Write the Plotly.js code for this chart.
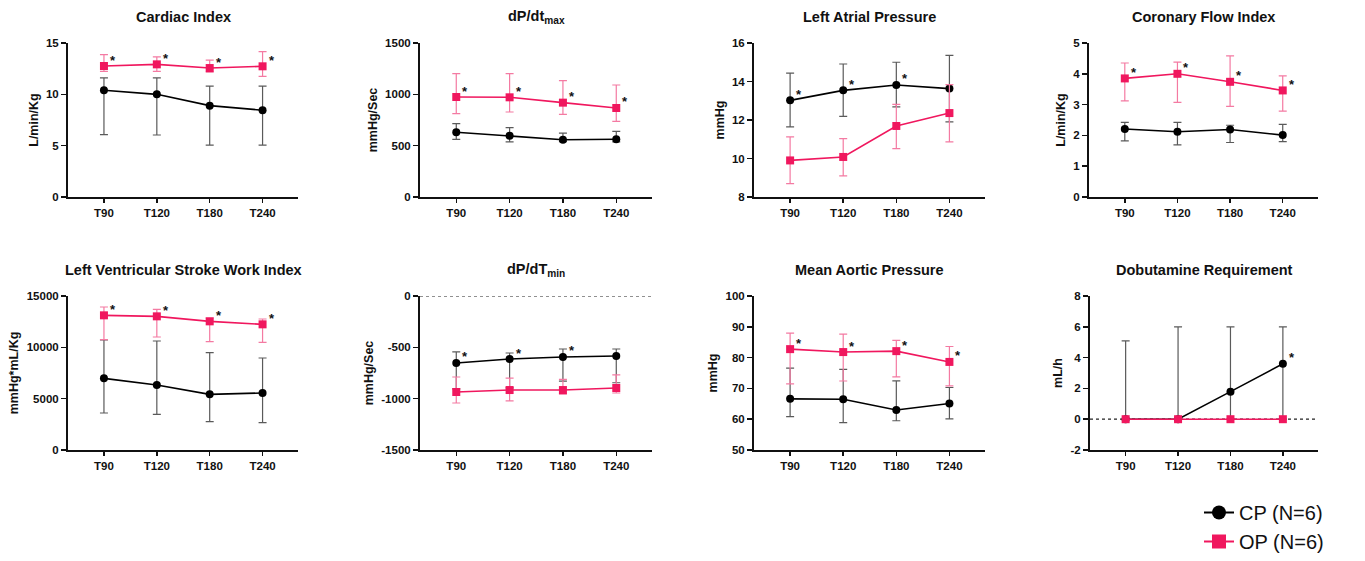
<!DOCTYPE html>
<html>
<head>
<meta charset="utf-8">
<script src="https://cdn.plot.ly/plotly-3.0.1.min.js"></script>
<style>html,body{margin:0;padding:0;background:#fff;overflow:hidden;}#chart{width:1365px;height:561px;}</style>
</head>
<body>
<div id="chart"></div>
<script>
// ---------------- DATA ----------------
const categories = ['T90', 'T120', 'T180', 'T240'];

// Cardiac Index (L/min/Kg)
const ci_cp = [10.4, 10.0, 8.9, 8.45];
const ci_cp_hi = [11.6, 11.6, 10.8, 10.8];
const ci_cp_lo = [6.07, 6.04, 5.06, 5.06];
const ci_op = [12.76, 12.92, 12.56, 12.73];
const ci_op_hi = [13.86, 13.64, 13.34, 14.16];
const ci_op_lo = [12.24, 12.24, 12.17, 11.75];

// dP/dt max (mmHg/Sec)
const dpmax_cp = [630, 597, 558, 562];
const dpmax_cp_hi = [714, 675, 623, 640];
const dpmax_cp_lo = [562, 536, 540, 536];
const dpmax_op = [974, 971, 919, 867];
const dpmax_op_hi = [1201, 1201, 1133, 1091];
const dpmax_op_lo = [812, 828, 805, 737];

// Left Atrial Pressure (mmHg)
const lap_cp = [13.02, 13.54, 13.82, 13.63];
const lap_cp_hi = [14.44, 14.91, 15.0, 15.36];
const lap_cp_lo = [11.64, 12.19, 12.68, 11.9];
const lap_op = [9.9, 10.08, 11.69, 12.36];
const lap_op_hi = [11.12, 11.03, 12.81, 13.84];
const lap_op_lo = [8.69, 9.1, 10.51, 10.86];

// Coronary Flow Index (L/min/Kg)
const cfi_cp = [2.21, 2.12, 2.19, 2.01];
const cfi_cp_hi = [2.42, 2.42, 2.33, 2.36];
const cfi_cp_lo = [1.82, 1.69, 1.77, 1.80];
const cfi_op = [3.85, 4.0, 3.74, 3.46];
const cfi_op_hi = [4.35, 4.38, 4.58, 3.93];
const cfi_op_lo = [3.12, 3.07, 2.94, 2.79];

// Left Ventricular Stroke Work Index (mmHg*mL/Kg)
const lvswi_cp = [6980, 6331, 5422, 5552];
const lvswi_cp_hi = [10714, 10617, 9481, 8961];
const lvswi_cp_lo = [3604, 3474, 2760, 2662];
const lvswi_op = [13117, 13019, 12532, 12240];
const lvswi_op_hi = [13929, 13701, 12857, 12760];
const lvswi_op_lo = [10747, 11006, 10552, 10487];

// dP/dT min (mmHg/Sec)
const dpmin_cp = [-652, -614, -594, -584];
const dpmin_cp_hi = [-545, -555, -516, -516];
const dpmin_cp_lo = [-905, -894, -829, -845];
const dpmin_op = [-935, -916, -916, -896];
const dpmin_op_hi = [-789, -799, -812, -769];
const dpmin_op_lo = [-1042, -1022, -955, -945];

// Mean Aortic Pressure (mmHg)
const map_cp = [66.6, 66.5, 63.0, 65.1];
const map_cp_hi = [76.6, 76.2, 72.45, 70.3];
const map_cp_lo = [60.85, 58.9, 59.5, 60.1];
const map_op = [82.75, 81.8, 82.1, 78.6];
const map_op_hi = [87.96, 87.6, 85.6, 83.6];
const map_op_lo = [71.5, 72.4, 73.75, 70.8];

// Dobutamine Requirement (mL/h)
const dob_cp = [0, 0, 1.79, 3.6];
const dob_cp_hi = [5.08, 6.0, 6.0, 6.0];
const dob_cp_lo = [0, 0, 0, 0];
const dob_op = [0, 0, 0, 0];
const dob_op_hi = [0, 0, 0, 0];
const dob_op_lo = [0, 0, 0, 0];

// significance markers (1 = asterisk)
const ci_star_op = [1, 1, 1, 1];
const dpmax_star_op = [1, 1, 1, 1];
const lap_star_cp = [1, 1, 1, 0];
const cfi_star_op = [1, 1, 1, 1];
const lvswi_star_op = [1, 1, 1, 1];
const dpmin_star_cp = [1, 1, 1, 0];
const map_star_op = [1, 1, 1, 1];
const dob_star_cp = [0, 0, 0, 1];

// Tick labels
const ci_ticks = [0, 5, 10, 15];
const dpmax_ticks = [0, 500, 1000, 1500];
const lap_ticks = [8, 10, 12, 14, 16];
const cfi_ticks = [0, 1, 2, 3, 4, 5];
const lvswi_ticks = [0, 5000, 10000, 15000];
const dpmin_ticks = [-1500, -1000, -500, 0];
const map_ticks = [50, 60, 70, 80, 90, 100];
const dob_ticks = [-2, 0, 2, 4, 6, 8];

const seriesNames = ['CP (N=6)', 'OP (N=6)'];

// ---------------- STYLE ----------------
const FONT = 'Liberation Sans, Arial, Helvetica, sans-serif';
const CP_COLOR = '#000000';
const CP_ERR = '#5a5a5a';
const OP_COLOR = '#f0175e';
const OP_ERR = '#f47aa2';

const panels = [
  {title: 'Cardiac Index', ytitle: 'L/min/Kg', cp: [ci_cp, ci_cp_hi, ci_cp_lo], op: [ci_op, ci_op_hi, ci_op_lo], starsCP: null, starsOP: ci_star_op, range: [0, 15], ticks: ci_ticks, dom: [68, 298], row: 0},
  {title: 'dP/dt<sub>max</sub>', ytitle: 'mmHg/Sec', cp: [dpmax_cp, dpmax_cp_hi, dpmax_cp_lo], op: [dpmax_op, dpmax_op_hi, dpmax_op_lo], starsCP: null, starsOP: dpmax_star_op, range: [0, 1500], ticks: dpmax_ticks, dom: [420, 652], row: 0},
  {title: 'Left Atrial Pressure', ytitle: 'mmHg', cp: [lap_cp, lap_cp_hi, lap_cp_lo], op: [lap_op, lap_op_hi, lap_op_lo], starsCP: lap_star_cp, starsOP: null, range: [8, 16], ticks: lap_ticks, dom: [754, 985], row: 0},
  {title: 'Coronary Flow Index', ytitle: 'L/min/Kg', cp: [cfi_cp, cfi_cp_hi, cfi_cp_lo], op: [cfi_op, cfi_op_hi, cfi_op_lo], starsCP: null, starsOP: cfi_star_op, range: [0, 5], ticks: cfi_ticks, dom: [1089, 1318], row: 0},
  {title: 'Left Ventricular Stroke Work Index', ytitle: 'mmHg*mL/Kg', cp: [lvswi_cp, lvswi_cp_hi, lvswi_cp_lo], op: [lvswi_op, lvswi_op_hi, lvswi_op_lo], starsCP: null, starsOP: lvswi_star_op, range: [0, 15000], ticks: lvswi_ticks, dom: [68, 298], row: 1},
  {title: 'dP/dT<sub>min</sub>', ytitle: 'mmHg/Sec', cp: [dpmin_cp, dpmin_cp_hi, dpmin_cp_lo], op: [dpmin_op, dpmin_op_hi, dpmin_op_lo], starsCP: dpmin_star_cp, starsOP: null, range: [-1500, 0], ticks: dpmin_ticks, dom: [420, 652], row: 1, dotZero: true},
  {title: 'Mean Aortic Pressure', ytitle: 'mmHg', cp: [map_cp, map_cp_hi, map_cp_lo], op: [map_op, map_op_hi, map_op_lo], starsCP: null, starsOP: map_star_op, range: [50, 100], ticks: map_ticks, dom: [754, 985], row: 1},
  {title: 'Dobutamine Requirement', ytitle: 'mL/h', cp: [dob_cp, dob_cp_hi, dob_cp_lo], op: [dob_op, dob_op_hi, dob_op_lo], starsCP: dob_star_cp, starsOP: null, range: [-2, 8], ticks: dob_ticks, dom: [1090, 1318], row: 1, dotZero: true, noOpErr: true}
];

const W = 1365, H = 561;
const rowPx = [[43, 197], [296, 450]];
const titleY = [17, 270];

const traces = [];
const annotations = [];
const shapes = [];
const layout = {
  width: W, height: H,
  margin: {l: 0, r: 0, t: 0, b: 0, pad: 0},
  paper_bgcolor: '#ffffff', plot_bgcolor: 'rgba(0,0,0,0)',
  font: {family: FONT, color: '#111'},
  showlegend: true,
  legend: {x: 1199 / W, y: 0, xanchor: 'left', yanchor: 'bottom', tracegroupgap: 9,
    traceorder: 'normal', font: {family: FONT, size: 20, color: '#111'}, bgcolor: 'rgba(0,0,0,0)'}
};

function errOf(mean, hi, lo) {
  return {
    type: 'data', symmetric: false,
    array: mean.map((m, i) => hi[i] - m),
    arrayminus: mean.map((m, i) => m - lo[i])
  };
}

panels.forEach((p, k) => {
  const n = k + 1;
  const xa = 'x' + (n === 1 ? '' : n), ya = 'y' + (n === 1 ? '' : n);
  const xkey = 'xaxis' + (n === 1 ? '' : n), ykey = 'yaxis' + (n === 1 ? '' : n);
  const yr = rowPx[p.row];

  layout[xkey] = {
    type: 'category', domain: [p.dom[0] / W, p.dom[1] / W], anchor: ya,
    range: [-0.68, 3.67], showline: true, linewidth: 2, linecolor: '#111',
    ticks: 'outside', ticklen: 4, tickwidth: 1.5, tickcolor: '#111',
    showgrid: false, zeroline: false, fixedrange: true, automargin: false,
    tickfont: {family: FONT, size: 11.5, color: '#111', weight: 'bold'}
  };
  layout[ykey] = {
    domain: [1 - yr[1] / H, 1 - yr[0] / H], anchor: xa,
    range: p.range, tickvals: p.ticks, ticktext: p.ticks.map(v => String(v)),
    showline: true, linewidth: 2, linecolor: '#111',
    ticks: 'outside', ticklen: 5, tickwidth: 1.5, tickcolor: '#111',
    showgrid: false, zeroline: false, fixedrange: true, automargin: false,
    tickfont: {family: FONT, size: 11.5, color: '#111', weight: 'bold'},
    title: {text: p.ytitle, font: {family: FONT, size: 12.5, color: '#111', weight: 'bold'}, standoff: 5}
  };

  const cpErr = errOf(p.cp[0], p.cp[1], p.cp[2]);
  const opErr = errOf(p.op[0], p.op[1], p.op[2]);

  traces.push({
    x: categories, y: p.cp[0], xaxis: xa, yaxis: ya, type: 'scatter', mode: 'lines+markers',
    name: seriesNames[0], showlegend: false, cliponaxis: false,
    line: {color: CP_COLOR, width: 1.6},
    marker: {color: CP_COLOR, size: 8, symbol: 'circle'},
    error_y: Object.assign(cpErr, {color: CP_ERR, thickness: 1.2, width: 4})
  });
  const opTrace = {
    x: categories, y: p.op[0], xaxis: xa, yaxis: ya, type: 'scatter', mode: 'lines+markers',
    name: seriesNames[1], showlegend: false, cliponaxis: false,
    line: {color: OP_COLOR, width: 1.6},
    marker: {color: OP_COLOR, size: 8, symbol: 'square'}
  };
  if (!p.noOpErr) opTrace.error_y = Object.assign(opErr, {color: OP_ERR, thickness: 1.2, width: 4});
  traces.push(opTrace);

  const addStars = (flags, vals) => {
    if (!flags) return;
    flags.forEach((f, i) => {
      if (!f) return;
      annotations.push({
        x: categories[i], y: vals[i], xref: xa, yref: ya, text: '*', showarrow: false,
        xshift: 9, yshift: 6, font: {family: FONT, size: 13, color: '#111', weight: 'bold'}
      });
    });
  };
  addStars(p.starsCP, p.cp[0]);
  addStars(p.starsOP, p.op[0]);

  annotations.push({
    x: ((p.dom[0] + p.dom[1]) / 2) / W, y: 1 - titleY[p.row] / H, xref: 'paper', yref: 'paper',
    text: p.title, showarrow: false, xanchor: 'center', yanchor: 'middle',
    font: {family: FONT, size: 14.5, color: '#111', weight: 'bold'}
  });

  if (p.dotZero) {
    shapes.push({type: 'line', xref: xa + ' domain', yref: ya, x0: 0, x1: 1, y0: 0, y1: 0,
      line: {color: '#222', width: 1.2, dash: 'dot'}, layer: 'below'});
  }
});

// legend entries (no data points of their own)
traces.push({
  x: [null], y: [null], type: 'scatter', mode: 'lines+markers', name: seriesNames[0],
  legendgroup: 'cp', showlegend: true, line: {color: CP_COLOR, width: 2},
  marker: {color: CP_COLOR, size: 14, symbol: 'circle'}, hoverinfo: 'skip'
});
traces.push({
  x: [null], y: [null], type: 'scatter', mode: 'lines+markers', name: seriesNames[1],
  legendgroup: 'op', showlegend: true, line: {color: OP_COLOR, width: 2},
  marker: {color: OP_COLOR, size: 14, symbol: 'square'}, hoverinfo: 'skip'
});

layout.annotations = annotations;
layout.shapes = shapes;

Plotly.newPlot('chart', traces, layout, {displayModeBar: false, staticPlot: true});
</script>
</body>
</html>
